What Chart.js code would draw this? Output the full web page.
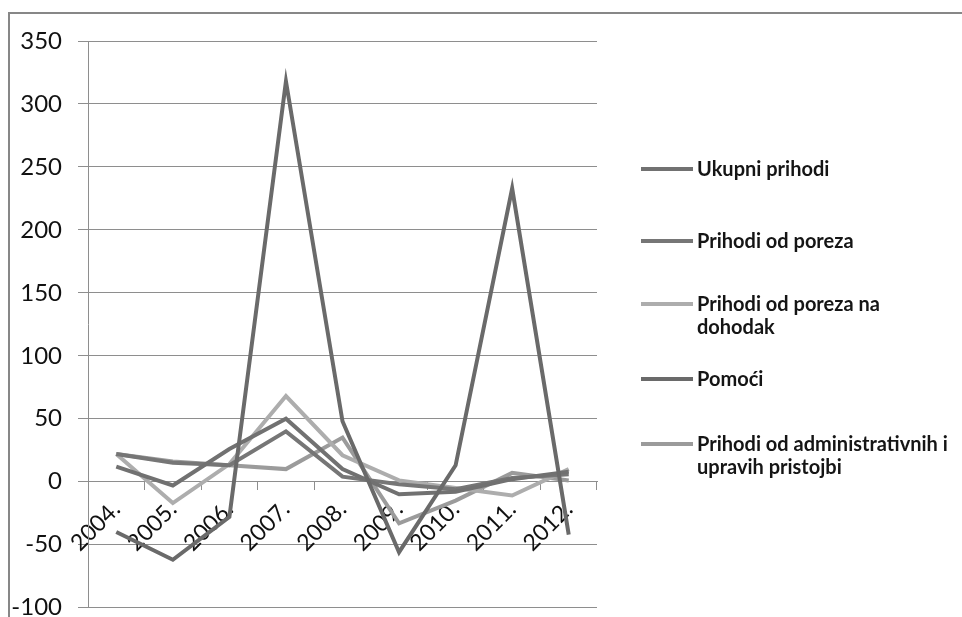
<!DOCTYPE html>
<html>
<head>
<meta charset="utf-8">
<script src="https://cdn.jsdelivr.net/npm/chart.js@4/dist/chart.umd.min.js"></script>
<style>
  body { margin: 0; background: #fff; }
  #wrap { position: relative; width: 962px; height: 617px; overflow: hidden; }
  #frame { position: absolute; left: 8px; top: 12px; right: 0; bottom: 0;
           border-left: 2px solid #878787; border-top: 2px solid #878787; }
  #myChart { position: absolute; left: 0; top: 0; }
  #legend { position: absolute; left: 641px; top: 0; font-family: Lato, sans-serif;
            font-size: 20px; font-weight: bold; color: #151515; }
  .item { position: absolute; left: 0; width: 320px; display: flex; align-items: flex-start; }
  .swatch { width: 52px; height: 4px; margin-top: 10px; margin-right: 4px; flex: none; }
  .txt { line-height: 23px; width: 256px; }
</style>
</head>
<body>
<div id="wrap">
  <div id="frame"></div>
  <canvas id="myChart" width="962" height="638"></canvas>
  <div id="legend"></div>
</div>
<script>
const canvas = document.getElementById('myChart')

// categories (years)
const years = ['2004.', '2005.', '2006.', '2007.', '2008.', '2009.', '2010.', '2011.', '2012.']

// series values
const ukupniPrihodi = [12, -3, 26, 50, 10, -10, -8, 2, 8]
const prihodiOdPoreza = [22, 15, 13, 40, 4, -2, -6, 3, 6]
const porezNaDohodak = [22, -17, 14, 68, 21, 1, -5, -11, 10]
const pomoci = [-40, -62, -28, 318, 48, -56, 13, 233, -42]
const administrativne = [22, 16, 13, 10, 35, -33, -15, 7, 1]

const names = ['Ukupni prihodi', 'Prihodi od poreza', 'Prihodi od poreza na dohodak', 'Pomoći',
    'Prihodi od administrativnih i upravih pristojbi']
const colors = ['#717171', '#767676', '#adadad', '#6a6a6a', '#9b9b9b']
const legendTops = [157, 229, 292, 367, 432]

// y tick labels
const yMin = -100
const yMax = 350
const yStep = 50

const series = [ukupniPrihodi, prihodiOdPoreza, porezNaDohodak, pomoci, administrativne]
// draw order: the big swings on top
const order = [1, 2, 3, 0, 4]

const datasets = series.map((data, i) => ({
    label: names[i],
    data,
    borderColor: colors[i],
    backgroundColor: colors[i],
    borderWidth: 4,
    pointRadius: 0,
    tension: 0,
    order: order[i]
}))

const gridColor = '#8e8e8e'

const config = {
    type: 'line',
    data: { labels: years, datasets },
    options: {
        responsive: false,
        animation: false,
        layout: {
            padding: { left: 0, right: 365, top: 41, bottom: -10 }
        },
        plugins: {
            legend: { display: false },
            tooltip: { enabled: false }
        },
        scales: {
            x: {
                position: { y: 0 },
                offset: true,
                grid: {
                    offset: true,
                    drawOnChartArea: false,
                    drawTicks: true,
                    tickLength: 8,
                    color: gridColor
                },
                border: { display: true, color: gridColor },
                ticks: {
                    minRotation: 45,
                    maxRotation: 45,
                    padding: 6,
                    color: '#111',
                    font: { family: 'Lato', size: 23 }
                }
            },
            y: {
                min: yMin,
                max: yMax,
                afterFit: (scale) => { scale.width = 88 },
                grid: {
                    color: gridColor,
                    tickLength: 10
                },
                border: { display: true, color: gridColor },
                ticks: {
                    stepSize: yStep,
                    padding: 16,
                    color: '#111',
                    font: { family: 'Lato', size: 24 }
                }
            }
        }
    }
}

const myChart = new Chart(canvas, config)

// legend with wrapped text, built from the datasets
const legend = document.getElementById('legend')
myChart.data.datasets.forEach((ds, i) => {
    const item = document.createElement('div')
    item.className = 'item'
    item.style.top = legendTops[i] + 'px'
    const sw = document.createElement('div')
    sw.className = 'swatch'
    sw.style.background = ds.borderColor
    const t = document.createElement('div')
    t.className = 'txt'
    t.textContent = ds.label
    item.appendChild(sw)
    item.appendChild(t)
    legend.appendChild(item)
})
</script>
</body>
</html>
